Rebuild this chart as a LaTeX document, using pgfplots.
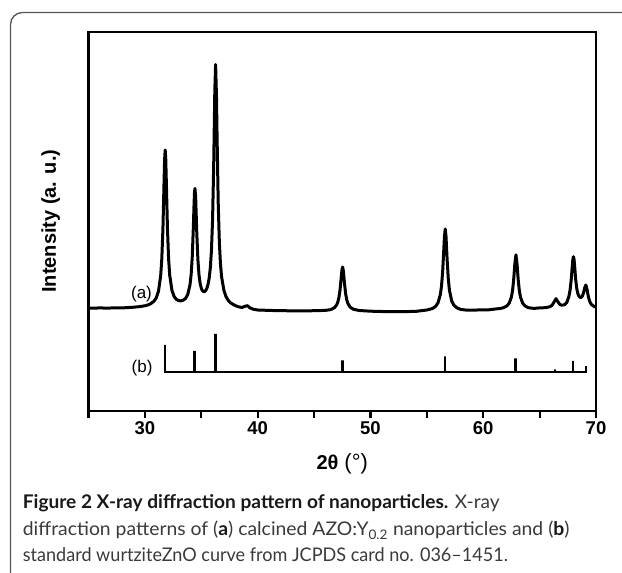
\documentclass[border=0pt]{standalone}
\usepackage{pgfplots}
\pgfplotsset{compat=1.18}
\usepackage{fontspec}
\setmainfont{Liberation Sans}
\newfontfamily\capfont{Lato}
\definecolor{capgray}{HTML}{3A3A3A}
\definecolor{boxgray}{HTML}{555555}
\begin{document}
\begin{tikzpicture}[x=1bp,y=1bp]
\useasboundingbox (0,0) rectangle (622,573);
\begin{scope}
\clip (0,0) rectangle (622,573);
\draw[line width=1.3bp, boxgray, rounded corners=12bp] (10.5,560.5) rectangle (680,-40);
\end{scope}
\begin{axis}[
  at={(88.5bp,162bp)}, anchor=south west,
  scale only axis, width=507.5bp, height=379bp,
  xmin=25, xmax=70, ymin=0, ymax=379,
  axis line style={line width=2.6bp},
  xtick={30,40,50,60,70},
  minor xtick={25,35,45,55,65},
  ytick=\empty,
  tick align=outside,
  xtick pos=left,
  major tick length=7.5bp, minor tick length=7bp,
  every tick/.style={black, line width=2.2bp},
  every minor tick/.style={black, line width=2.2bp},
  tick label style={font=\fontsize{18.5bp}{20bp}\selectfont\bfseries},
  /pgf/number format/assume math mode=true,
  xlabel={{\bfseries 2θ}\hspace{6bp}{\fontsize{22bp}{22bp}\selectfont(°)}},
  xlabel style={at={(axis description cs:0.5,-0.14)}, anchor=center, font=\fontsize{20bp}{22bp}\selectfont},
  ylabel={Intensity (a. u.)},
  ylabel style={at={(axis description cs:-0.0747,0.501)}, anchor=center, font=\fontsize{20bp}{22bp}\selectfont\bfseries},
  clip=false,
]
% (a) measured pattern
\addplot[black, line width=3bp, line join=round] coordinates {
(25.0,103.0)(25.5,102.8)(26.0,103.1)(26.5,102.9)(27.0,103.0)(27.5,103.2)(28.0,103.1)(28.5,103.4)(29.0,103.8)(29.5,104.3)
(30.0,105.2)(30.3,106.2)(30.5,107.2)(30.8,109.7)(31.0,113)(31.2,119.5)(31.4,135.3)(31.5,152.3)(31.6,182.5)(31.7,229.6)
(31.75,251.8)(31.8,261)(31.85,251.8)(31.9,229.7)(32.0,182.8)(32.1,152.6)(32.2,135.9)(32.4,120.5)(32.6,114.3)(32.8,111.5)
(33.0,110.4)(33.2,110.1)(33.4,110.8)(33.6,112.5)(33.8,116.5)(34.0,126.2)(34.1,136.3)(34.2,154.3)(34.3,184.9)(34.35,203.8)
(34.4,219.1)(34.44,222.5)(34.5,214.2)(34.6,178.6)(34.7,151.2)(34.8,135.8)(34.9,127.4)(35.0,122.8)(35.1,120.4)(35.2,119.4)
(35.3,119.5)(35.4,120.5)(35.5,122.8)(35.6,126.7)(35.7,132.8)(35.8,143)(35.9,160.2)(36.0,191)(36.1,245.6)(36.15,283)
(36.2,320.6)(36.27,346.5)(36.35,313.2)(36.4,274.6)(36.5,208.6)(36.6,169.3)(36.7,147.2)(36.8,134.3)(37.0,120.9)(37.2,114.2)
(37.4,110.5)(37.6,108.2)(37.8,106.7)(38.0,105.5)(38.3,104.2)(38.6,103.5)(38.9,104.8)(39.1,105.3)(39.3,103.2)(39.6,101.8)
(40.0,101.0)(41,100.6)(42,100.3)(43,100.2)(44,100.0)(45,100.3)(46.0,100.6)(46.5,101.4)(46.8,103.2)(47.0,106)
(47.1,108.7)(47.2,113.2)(47.3,120.8)(47.4,132.5)(47.47,140.9)(47.53,144)(47.6,139.9)(47.7,127.4)(47.8,117.3)(47.9,111.1)
(48.0,107.5)(48.2,103.8)(48.5,101.7)(49.0,100.5)(50,99.8)(51,99.5)(52,99.3)(53,99.4)(54,99.6)(55,101)
(55.5,102.5)(55.8,104.9)(56.0,108.5)(56.2,116.6)(56.3,124.9)(56.4,138.9)(56.5,160.6)(56.56,174.4)(56.63,182)(56.7,174.4)
(56.8,151.1)(56.9,132.4)(57.0,121)(57.2,110.2)(57.4,105.7)(57.7,102.9)(58.0,101.6)(58.5,100.9)(59,100.8)(59.5,101.0)
(60,101.1)(60.5,101.2)(61.0,101.9)(61.5,102.5)(61.8,103.3)(62.1,105.1)(62.3,107.7)(62.5,114)(62.6,120.5)(62.7,131.3)
(62.8,146.8)(62.9,156.2)(63.0,146.8)(63.1,131.3)(63.2,120.5)(63.3,114)(63.5,107.7)(63.7,105.1)(64.0,103.3)(64.5,102.6)
(65.0,103.1)(65.5,103.3)(65.9,104.2)(66.1,105.6)(66.3,109.3)(66.45,112.3)(66.6,109.6)(66.8,106.4)(67.0,105.7)(67.2,106.3)
(67.4,108.3)(67.6,114.7)(67.7,120.9)(67.8,131.1)(67.9,145.5)(67.95,151.8)(68.0,154.3)(68.05,151.9)(68.1,145.5)(68.2,131.3)
(68.3,122)(68.4,117)(68.5,114.5)(68.6,113.6)(68.7,113.7)(68.8,115.2)(68.9,118.5)(69.0,123.3)(69.1,126)(69.2,121.9)
(69.3,115.5)(69.4,111)(69.5,108.2)(69.6,106.5)(69.8,104.7)(70.0,103.8)
};
% (b) JCPDS 036-1451 stick pattern
\addplot[black, line width=2.6bp] coordinates {
(31.77,39)(31.77,66)(31.77,39)(34.42,39)(34.42,60)(34.42,39)(36.25,39)(36.25,77)(36.25,39)
(47.54,39)(47.54,50.5)(47.54,39)(56.60,39)(56.60,54.5)(56.60,39)(62.86,39)(62.86,52.5)(62.86,39)
(66.38,39)(66.38,41.5)(66.38,39)(67.96,39)(67.96,50)(67.96,39)(69.10,39)(69.10,45)
};
\node[font=\fontsize{17bp}{17bp}\selectfont] at (axis cs:29.7,117) {(a)};
\node[font=\fontsize{17bp}{17bp}\selectfont] at (axis cs:29.75,43) {(b)};
\end{axis}
\begin{scope}[color=capgray]
\node[anchor=base west, inner sep=0pt, font=\capfont\fontsize{18.8bp}{20bp}\selectfont] at (22.7,64)
  {\scalebox{1.015}[1]{{\bfseries\color{black!90}Figure 2 X-ray diffraction pattern of nanoparticles.} X-ray}};
\node[anchor=base west, inner sep=0pt, font=\capfont\fontsize{18.8bp}{20bp}\selectfont] at (22.7,37)
  {\scalebox{1.03}[1]{diffraction patterns of ({\bfseries\color{black!90}a}) calcined AZO:Y\textsubscript{0.2} nanoparticles and ({\bfseries\color{black!90}b})}};
\node[anchor=base west, inner sep=0pt, font=\capfont\fontsize{18.8bp}{20bp}\selectfont] at (22.7,11)
  {\scalebox{0.96}[1]{standard wurtziteZnO curve from JCPDS card no. 036–1451.}};
\end{scope}
\end{tikzpicture}
\end{document}
